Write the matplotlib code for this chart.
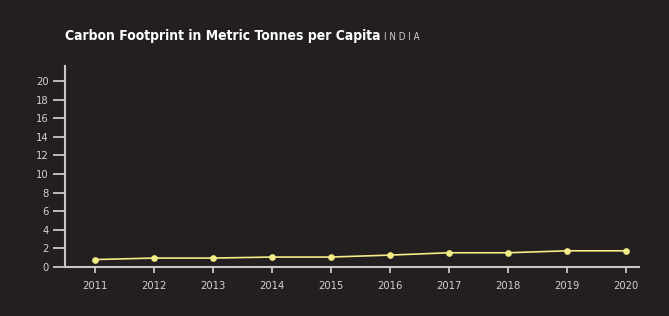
import matplotlib
matplotlib.use("Agg")
import matplotlib.pyplot as plt

years = [2011, 2012, 2013, 2014, 2015, 2016, 2017, 2018, 2019, 2020]
tonnes = [0.8, 0.96, 0.96, 1.07, 1.07, 1.28, 1.53, 1.53, 1.74, 1.74]
yticks = list(range(0, 21, 2))

plt.rcParams["font.family"] = ["DejaVu Sans"]
plt.rcParams["font.stretch"] = "condensed"

bg = "#231f20"
axis_col = "#c8c8c8"
line_col = "#f4ec86"

fig = plt.figure(figsize=(6.69, 3.16), dpi=100, facecolor=bg)
ax = fig.add_axes([65 / 669, 49 / 316, 574 / 669, 201 / 316], facecolor=bg)

ax.plot(years, tonnes, color=line_col, lw=1.2, marker="o", ms=3.8,
        markerfacecolor=line_col, markeredgecolor=line_col)

ax.set_xlim(2010.49, 2020.22)
ax.set_ylim(0, 21.6)
ax.set_xticks(years)
ax.set_xticklabels([str(y) for y in years])
ax.set_yticks(yticks)

for s in ["top", "right"]:
    ax.spines[s].set_visible(False)
for s in ["left", "bottom"]:
    ax.spines[s].set_color(axis_col)
    ax.spines[s].set_linewidth(1.5)

ax.tick_params(axis="y", length=8.6, width=1.3, color=axis_col, labelcolor="#d0d0d0",
               labelsize=8, pad=3)
ax.tick_params(axis="x", length=4, width=1.3, color=axis_col, labelcolor="#d0d0d0",
               labelsize=8, pad=6)

title = fig.text(65 / 669, 1 - 40 / 316, "Carbon Footprint in Metric Tonnes per Capita",
                 color="white", fontsize=10, fontweight="bold", va="baseline", ha="left")
fig.canvas.draw()
bb = title.get_window_extent()
fig.text((bb.x1 + 4) / 669, 1 - 40 / 316, "I N D I A", color="#cfcfcf", fontsize=7,
         va="baseline", ha="left")

fig.savefig("out.png", dpi=100, facecolor=bg)
